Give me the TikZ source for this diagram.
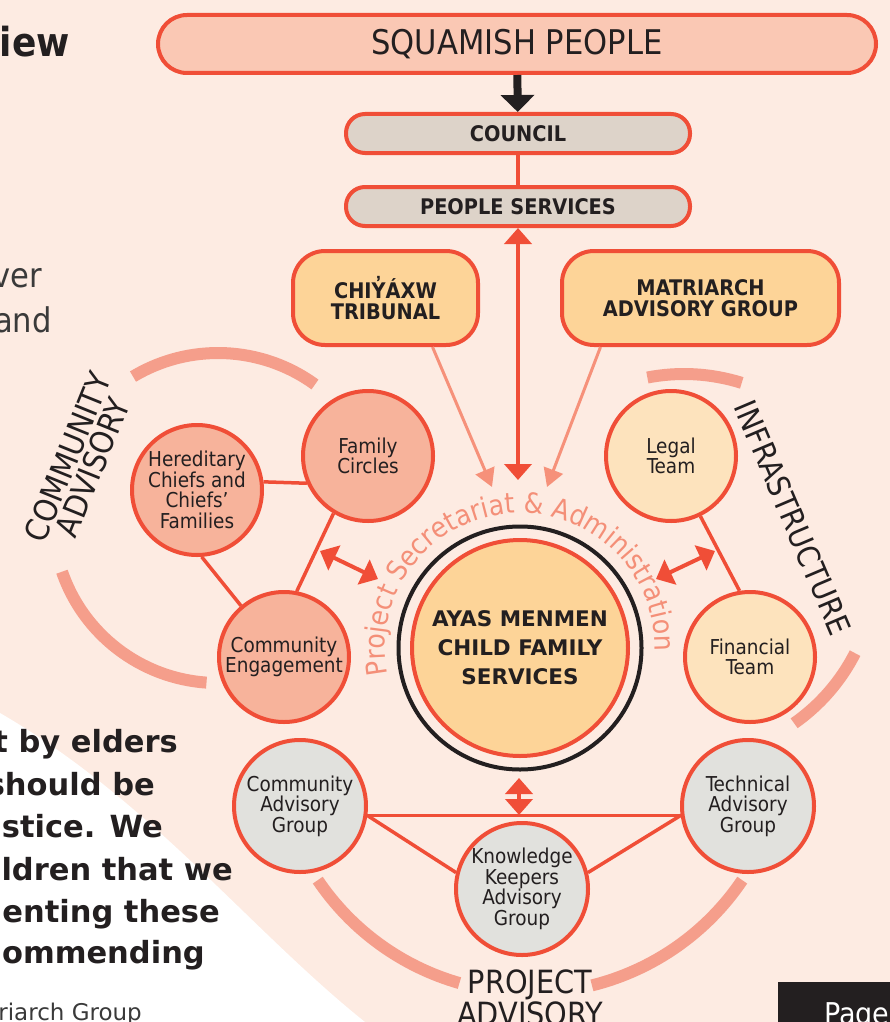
\documentclass[tikz,border=0pt]{standalone}
\usepackage{fontspec}
\setmainfont{DejaVu Sans}
\newfontfamily\cond{DejaVu Sans Condensed}
\usetikzlibrary{arrows.meta, decorations.text, calc}
\definecolor{bgpeach}{HTML}{FDEBE2}
\definecolor{redline}{HTML}{F04E37}
\definecolor{pplfill}{HTML}{FAC8B4}
\definecolor{cncfill}{HTML}{DDD3C9}
\definecolor{ornfill}{HTML}{FDD498}
\definecolor{cmtfill}{HTML}{F7B39B}
\definecolor{infill}{HTML}{FDE3BD}
\definecolor{advfill}{HTML}{E1E1DD}
\definecolor{ringarc}{HTML}{F59E8B}
\definecolor{softarr}{HTML}{F6917A}
\definecolor{sectxt}{HTML}{F48F78}
\definecolor{inkdark}{HTML}{231F20}
\definecolor{inkgray}{HTML}{3A3A3A}

\begin{document}
\begin{tikzpicture}[x=1pt, y=-1pt,
  box/.style={draw=redline, line width=4pt, rounded corners=#1, inner sep=0pt, text=inkdark, align=center, font=\cond\bfseries\fontsize{21.5}{21}\selectfont},
  box/.default=19pt,
  bub/.style={circle, draw=redline, line width=4pt, minimum size=130pt, inner sep=0pt, text=inkdark, align=center, font=\cond\fontsize{20.5}{20.5}\selectfont},
  link/.style={draw=redline, line width=3.5pt},
  dbl/.style={draw=redline, line width=4pt, {Triangle[width=27pt,length=16pt]}-{Triangle[width=27pt,length=16pt]}},
  soft/.style={draw=softarr, line width=3pt, -{Triangle[width=20pt,length=18pt]}},
  band/.style={draw=ringarc, line width=12pt},
  grp/.style={text=inkdark, inner sep=0pt, align=center, font=\cond\fontsize{32}{27}\selectfont},
  quote/.style={text=inkdark, inner sep=0pt, anchor=base east, font=\bfseries\fontsize{30.5}{30.5}\selectfont}]
\useasboundingbox (0,0) rectangle (890,1022);
\fill[bgpeach] (0,0) rectangle (890,1022);
\clip (0,0) rectangle (890,1022);
\fill[white] (0,713) .. controls (150,800) and (250,930) .. (365,1022) -- (0,1022) -- cycle;

% text of the page around the chart
\node[anchor=base east, inner sep=0pt, text=inkdark, font=\cond\bfseries\fontsize{40}{40}\selectfont] (ttl) at (70,57) {iew};
\node[anchor=base east, inner sep=0pt, text=inkgray, font=\cond\fontsize{34}{34}\selectfont] (ln1) at (42,287) {ver};
\node[anchor=base east, inner sep=0pt, text=inkgray, font=\cond\fontsize{34}{34}\selectfont] (ln2) at (52,332) {and};
\foreach \t/\xr/\yb in {t by elders/178/752, should be/155/795, ustice. We/163/837, ldren that we/233/880, menting these/220/922, ommending/205/963}{\node[quote] at (\xr,\yb) {\t};}
\node[anchor=base east, inner sep=0pt, text=inkgray, font=\fontsize{23}{23}\selectfont] (src) at (142,1020) {riarch Group};
\fill[inkdark] (778,982) rectangle (890,1022);
\node[anchor=base west, inner sep=0pt, text=white, font=\cond\fontsize{30}{30}\selectfont] (page) at (824,1024) {Page};

% rings
\foreach \cx/\cy/\r/\a/\b in {218/518/165/239/306, 218/518/165/94/161, 684/566/192/259/287.5, 684/566/192/27/55, 530/737/256/106/146, 530/737/256/34/76}{\draw[band] (\cx,\cy) ++(\a:\r) arc[start angle=\a, end angle=\b, radius=\r];}

\node[box=29pt, fill=pplfill, minimum width=718pt, minimum height=58pt, font=\cond\fontsize{34}{34}\selectfont] (people) at (517,44) {SQUAMISH PEOPLE};
\node[box, fill=cncfill, minimum width=344pt, minimum height=39pt] (council) at (518,133.5) {COUNCIL};
\node[box, fill=cncfill, minimum width=344pt, minimum height=39pt] (services) at (518,206.5) {PEOPLE SERVICES};
\node[box=32pt, fill=ornfill, minimum width=185pt, minimum height=94pt] (tribunal) at (385.5,298) {CHIY̓ÁXW\\TRIBUNAL};
\node[box=32pt, fill=ornfill, minimum width=277pt, minimum height=94pt] (matriarch) at (700.5,298) {MATRIARCH\\ADVISORY GROUP};

\node[circle, draw=inkdark, line width=4pt, minimum size=243pt] (ring) at (520,648) {};
\node[bub, fill=ornfill, minimum size=216pt, font=\bfseries\fontsize{21.5}{29}\selectfont] (ayas) at (520,648) {AYAS MENMEN\\CHILD FAMILY\\SERVICES};
\path[decorate, decoration={text along path, text align=center, text={|\cond\fontsize{28}{30}\selectfont\color{sectxt}|Project Secretariat {\&} Administration}}] (ayas.center) ++(160:135) arc[start angle=160, end angle=370, radius=135];

\node[bub, fill=cmtfill] (her) at (197,490) {Hereditary\\Chiefs and\\Chiefs’\\Families};
\node[bub, fill=cmtfill] (fam) at (368,456) {Family\\Circles};
\node[bub, fill=cmtfill] (eng) at (284,657) {Community\\Engagement};
\node[bub, fill=infill] (legal) at (671,456) {Legal\\Team};
\node[bub, fill=infill] (fin) at (750,657) {Financial\\Team};
\node[bub, fill=advfill, minimum size=132pt] (cag) at (300,806) {Community\\Advisory\\Group};
\node[bub, fill=advfill, minimum size=132pt] (kk) at (522,889) {Knowledge\\Keepers\\Advisory\\Group};
\node[bub, fill=advfill, minimum size=132pt] (tag) at (748,806) {Technical\\Advisory\\Group};

\node[grp, rotate=68] (cadv) at (80,462) {COMMUNITY\\ADVISORY};
\node[grp, rotate=-67, font=\cond\fontsize{31}{27}\selectfont] (infra) at (793,518) {INFRASTRUCTURE};
\node[grp, anchor=north] (padv) at (530,970) {PROJECT\\ADVISORY};

\foreach \i/\j in {her.7/fam.204, her.-86/eng.130, fam.239/eng.79, legal.-64/fin.99, cag.-8/tag.188, cag.-8/kk.166, kk.14/tag.188}{\draw[link] (\i) -- (\j);}
\draw[link] (council) -- (services);
\draw[draw=inkdark, line width=8pt, -{Triangle[width=33pt,length=17pt]}] (people) -- (council);

\coordinate (tipS) at (518,480);
\coordinate (tipL) at (492,487);
\coordinate (tipR) at (547,487);
\coordinate (lA) at (320,551);
\coordinate (lB) at (378,579);
\coordinate (rA) at (656,579);
\coordinate (rB) at (715,551);
\coordinate (bA) at (519,778);
\coordinate (bB) at (519,815);
\draw[dbl] (services) -- (tipS);
\draw[soft] ([xshift=47pt]tribunal.south) -- (tipL);
\draw[soft] ([xshift=-100pt]matriarch.south) -- (tipR);
\foreach \p/\q in {lA/lB, rA/rB, bA/bB}{\draw[dbl] (\p) -- (\q);}
\end{tikzpicture}
\end{document}
